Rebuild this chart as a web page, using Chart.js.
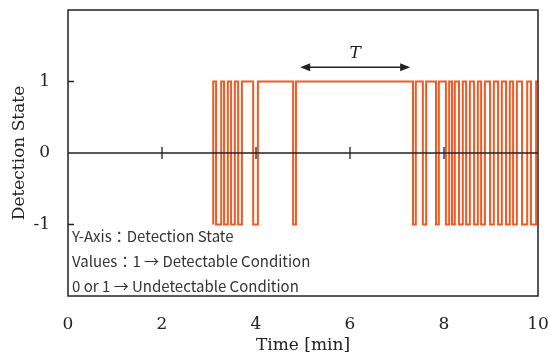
<!DOCTYPE html>
<html>
<head>
<meta charset="utf-8">
<script src="https://cdn.jsdelivr.net/npm/chart.js@4"></script>
<style>
html, body { margin: 0; padding: 0; background: #fff; }
#wrap { width: 549px; height: 356px; }
</style>
</head>
<body>
<div id="wrap"><canvas id="chart"></canvas></div>
<script>
// switching instants [min] and the state reached at each one
const switchTimes = [3.09, 3.09, 3.15, 3.26, 3.32, 3.40, 3.47, 3.55, 3.62, 3.70, 3.94, 4.04,
    4.79, 4.85,
    7.34, 7.40, 7.55, 7.62, 7.83, 7.89, 8.04, 8.11, 8.17, 8.23, 8.32, 8.40, 8.47, 8.55,
    8.64, 8.72, 8.79, 8.87, 8.98, 9.06, 9.15, 9.23, 9.32, 9.40, 9.47, 9.55, 9.66, 9.77,
    9.85, 9.96, 10.0]
const switchStates = [-1, 1, -1, 1, -1, 1, -1, 1, -1, 1, -1, 1,
    -1, 1,
    -1, 1, -1, 1, -1, 1, -1, 1, -1, 1, -1, 1, -1, 1,
    -1, 1, -1, 1, -1, 1, -1, 1, -1, 1, -1, 1, -1, 1,
    -1, 1, 1]

const xTickValues = [0, 2, 4, 6, 8, 10]
const yTickValues = [-1, 0, 1]
const zeroLineTicks = [2, 4, 6, 8]

// period T marker
const periodStart = 4.94
const periodEnd = 7.28
const periodLevel = 1.2
const periodLabel = 'T'

const noteLines = ['Y-Axis：Detection State', 'Values：1 → Detectable Condition', '0 or 1 → Undetectable Condition']
const noteLevels = [-1.17, -1.52, -1.86]

const serif = '"DejaVu Serif", "Liberation Serif", serif'
const signalColor = '#f15a24'

const overlay = {
    id: 'overlay',
    afterDatasetsDraw(chart) {
        const {ctx, chartArea: a, scales: {x, y}} = chart
        ctx.save()
        ctx.strokeStyle = '#222'
        ctx.fillStyle = '#222'
        ctx.lineWidth = 1.3

        // zero line with crossing ticks
        const y0 = y.getPixelForValue(0)
        ctx.beginPath()
        ctx.moveTo(a.left, y0)
        ctx.lineTo(a.right, y0)
        zeroLineTicks.forEach(v => {
            const px = x.getPixelForValue(v)
            ctx.moveTo(px, y0 - 6)
            ctx.lineTo(px, y0 + 6)
        })
        // inward y ticks
        yTickValues.forEach(v => {
            const py = y.getPixelForValue(v)
            ctx.moveTo(a.left, py)
            ctx.lineTo(a.left + 6, py)
        })
        ctx.stroke()

        // frame
        ctx.lineWidth = 1.5
        ctx.strokeRect(a.left, a.top, a.right - a.left, a.bottom - a.top)

        // double arrow for T
        const ax1 = x.getPixelForValue(periodStart)
        const ax2 = x.getPixelForValue(periodEnd)
        const ay = y.getPixelForValue(periodLevel)
        ctx.lineWidth = 1.5
        ctx.beginPath()
        ctx.moveTo(ax1 + 6, ay)
        ctx.lineTo(ax2 - 6, ay)
        ctx.stroke()
        ctx.beginPath()
        ctx.moveTo(ax1, ay)
        ctx.lineTo(ax1 + 10, ay - 4)
        ctx.lineTo(ax1 + 10, ay + 4)
        ctx.closePath()
        ctx.moveTo(ax2, ay)
        ctx.lineTo(ax2 - 10, ay - 4)
        ctx.lineTo(ax2 - 10, ay + 4)
        ctx.closePath()
        ctx.fill()

        ctx.font = 'italic 17px ' + serif
        ctx.textAlign = 'center'
        ctx.textBaseline = 'bottom'
        ctx.fillText(periodLabel, (ax1 + ax2) / 2, ay - 5)

        // note text
        ctx.font = '15px "Noto Sans CJK JP", "Noto Sans", sans-serif'
        ctx.textAlign = 'left'
        ctx.textBaseline = 'middle'
        ctx.fillStyle = '#333'
        noteLines.forEach((line, i) => {
            ctx.fillText(line, a.left + 4, y.getPixelForValue(noteLevels[i]))
        })
        ctx.restore()
    }
}

new Chart(document.getElementById('chart'), {
    type: 'line',
    data: {
        datasets: [{
            data: switchTimes.map((t, i) => ({x: t, y: switchStates[i]})),
            borderColor: signalColor,
            borderWidth: 2,
            stepped: 'before',
            pointRadius: 0,
            fill: false
        }]
    },
    options: {
        responsive: true,
        maintainAspectRatio: false,
        animation: false,
        layout: { padding: { top: 10, right: 11, left: 0, bottom: 0 } },
        scales: {
            x: {
                type: 'linear',
                min: 0,
                max: 10,
                afterBuildTicks: axis => { axis.ticks = xTickValues.map(v => ({value: v})) },
                afterFit: scale => {
                    scale.height = 60
                    scale.paddingLeft = 0
                    scale.paddingRight = 0
                },
                grid: { display: false, drawTicks: false },
                border: { display: false },
                ticks: { padding: 18, color: '#222', font: { family: serif, size: 17 } },
                title: {
                    display: true,
                    text: 'Time [min]',
                    color: '#222',
                    font: { family: serif, size: 17 },
                    padding: { top: 0, bottom: 0 }
                }
            },
            y: {
                min: -2,
                max: 2,
                afterBuildTicks: axis => { axis.ticks = yTickValues.map(v => ({value: v})) },
                afterFit: scale => {
                    scale.width = 68
                    scale.paddingTop = 0
                    scale.paddingBottom = 0
                },
                grid: { display: false, drawTicks: false },
                border: { display: false },
                ticks: { padding: 18, color: '#222', font: { family: serif, size: 17 } },
                title: {
                    display: true,
                    text: 'Detection State',
                    color: '#222',
                    font: { family: serif, size: 17 },
                    padding: { top: 9, bottom: 0 }
                }
            }
        },
        plugins: {
            legend: { display: false },
            tooltip: { enabled: false }
        }
    },
    plugins: [overlay]
})
</script>
</body>
</html>
